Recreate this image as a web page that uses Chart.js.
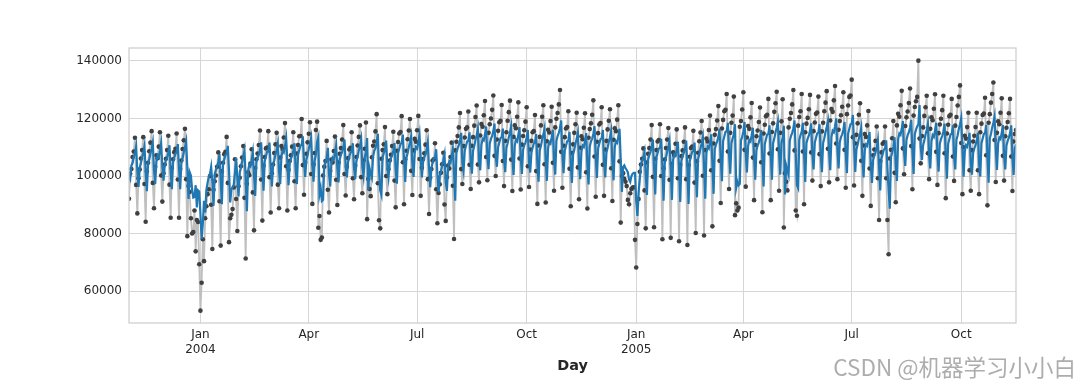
<!DOCTYPE html>
<html>
<head>
<meta charset="utf-8">
<script src="https://cdn.jsdelivr.net/npm/chart.js@4/dist/chart.umd.min.js"></script>
<style>
html,body{margin:0;padding:0;background:#fff;}
#wrap{position:relative;width:1082px;height:382px;overflow:hidden;}
#watermark{position:absolute;right:6px;top:351px;font-family:"Noto Sans CJK SC",sans-serif;font-size:22.5px;line-height:30px;color:#adadad;white-space:nowrap;}
</style>
</head>
<body>
<div id="wrap">
<canvas id="c" width="1082" height="382"></canvas>
<div id="watermark">CSDN @机器学习小小白</div>
</div>
<script>
// First day shown (Sunday 2003-11-02); one value per day after it.
const startDate = '2003-11-02';

// Observed daily vehicle counts (grey dotted line), one row per Mon..Sun week
const numVehicles = [
92100,
100800,102400,106600,108500,113300,96900,87000,
99200,102300,106100,109000,113500,97200,84100,
101600,104600,108600,111600,115600,97600,88800,
103200,107200,106200,110200,115200,100200,91100,
101000,104000,106000,109000,114000,97000,85500,
102800,105800,108300,109500,114800,98800,85500,
102400,105400,109400,112400,116400,98900,79100,
96500,94500,85300,80000,80500,88000,73800,
84700,84000,69300,53200,62900,78000,70400,
85300,89500,93700,95400,100000,90000,74600,
95200,98200,100200,103200,108200,91200,75800,
101600,104600,107600,108400,113600,97600,77000,
85300,86500,88500,96000,105800,92000,80900,
96400,99400,103400,106400,110400,92400,71300,
97300,101300,100300,104300,109300,94300,81100,
102800,105800,107800,110800,115800,98800,84500,
103600,106600,109600,109900,115600,99600,87300,
101000,104000,108000,111000,115000,97000,88800,
106400,110400,109400,113400,118400,103400,88000,
102200,105200,107200,110200,115200,98200,88800,
107800,110800,113800,113900,119800,103800,93500,
104700,107700,111700,114700,118700,100700,90300,
104000,108000,116000,118900,82000,86100,77800,
78600,100200,103200,105200,112200,95200,87300,
101700,105700,104700,108700,113700,98700,89900,
104700,107700,109700,112700,117700,100700,93200,
103200,106200,109200,109800,115200,99200,91900,
103600,106600,110600,113600,117600,99600,94000,
105500,109500,118600,85000,99000,95500,93000,
106500,110500,112000,115500,121500,97500,84600,
81800,106000,109000,111000,117000,100000,93700,
102400,105400,107400,110400,115400,98400,89100,
108800,111800,114800,115300,120800,104800,90200,
105800,108800,112800,115800,119800,101800,93400,
108900,112900,111900,115900,120900,105900,93100,
102900,105900,107900,110900,115900,98900,86800,
99400,102400,105400,105800,111400,95400,83600,
94100,97100,101100,104100,108100,90100,84400,
99600,103600,102600,106600,111600,96600,78100,
108900,111900,113900,116900,121900,102400,97200,
110400,113400,116400,116900,122400,103900,95500,
110500,113500,117500,120500,124500,104000,97800,
114100,118100,117100,121100,126100,106600,98500,
115000,118000,120000,123000,128000,107000,100000,
112700,115700,118700,119200,124700,105200,96500,
112200,115200,119200,122200,126200,105700,94800,
113600,117600,116600,120600,125600,106100,95300,
110900,113900,115900,118900,123900,103400,96200,
109200,112200,115200,115600,121200,101700,90300,
110600,113600,117600,120600,124600,104100,90800,
112100,116100,115100,119100,124100,104600,94900,
116900,119900,121900,124900,129900,108400,95900,
110500,113500,116500,117000,122500,102500,89500,
108000,111000,115000,118000,122000,103000,91900,
109800,113800,112800,116800,121800,101300,88700,
113300,116300,118300,121300,126300,106800,92800,
111900,114900,117900,118400,123900,103900,93100,
109200,112200,116200,119200,123200,102700,91300,
112600,116600,115600,119600,124600,105100,83800,
100000,101000,99000,98000,96500,91700,90200,
94000,95500,96000,96100,77800,68200,83300,
92000,101500,104000,106000,109600,95000,81800,
104700,107700,109700,112700,117700,99700,82200,
106000,109000,112000,112500,118000,100000,78000,
102700,105700,109700,112700,116700,98700,78500,
104200,108200,107200,111200,116200,99200,77300,
103900,106900,108900,111900,116900,98900,76000,
103700,106700,109700,110200,115700,97700,80200,
105100,108100,112100,115100,119100,100100,79300,
109000,113000,112000,116000,121000,102000,82500,
111300,114300,116300,119300,124300,105300,90600,
116500,119500,122500,123000,128500,108500,95500,
115000,118500,121000,127600,86400,90500,88000,
89000,117100,119100,123100,129100,109100,96300,
113400,117400,116400,120400,125400,106400,91600,
110800,113800,115800,118800,123800,104800,87400,
114800,117800,120800,121300,126800,107800,91600,
115300,118300,122300,125300,129300,109300,94900,
115000,119000,126700,82100,101000,98000,95000,
116900,119900,121900,124900,129900,108900,88000,
86200,117500,120500,122500,128500,108500,90200,
115200,118200,120200,123200,128200,108200,98400,
115600,118600,121600,122100,127600,107600,96500,
115500,118500,122500,125500,129500,109500,97800,
119300,123300,122300,126300,131300,111300,98900,
116100,119100,121100,124100,129100,109100,95900,
121500,124500,127500,128000,133500,113500,96700,
111300,114300,118300,121300,125300,105300,93100,
110600,114600,113600,117600,122600,102600,89600,
104200,107200,109200,112200,117200,99200,84700,
105200,108200,111200,111700,117200,99200,84700,
72800,106100,109100,113100,119100,101100,90900,
117600,121600,120600,124600,129600,109600,100600,
117400,120400,122400,125400,130400,110400,95400,
121000,124000,126000,127500,140100,113000,104400,
113900,116900,120900,123900,127900,107900,98900,
116400,120400,119400,123400,128400,108400,96900,
114900,117900,119900,122900,127900,107900,92300,
114800,117800,120800,121300,126800,106800,98300,
117500,120500,124500,127500,131500,111500,93700,
110000,114000,113000,117000,122000,102000,94900,
109000,112000,114000,117000,122000,102000,93700,
115200,118200,121200,121700,127200,107200,89800,
118500,121500,125500,128500,132500,112500,97900,
115000,119000,118000,122000,127000,107000,98400,
113800,116800,118800,121800,126800,106800,94800,
112000,114600,116000
];

// Lag-1 regression prediction (blue line), same days
const lagPrediction = [
100000,
99000,103600,104500,106700,107800,110300,101500,
96200,102800,104400,106500,108000,110400,101700,
94700,104100,105700,107800,109400,111600,101900,
97200,104900,107100,106500,108700,111400,103300,
98400,103700,105400,106400,108000,110700,101600,
95400,104700,106300,107700,108300,111100,102600,
95400,104500,106100,108200,109900,112000,102600,
92000,101300,100200,95300,92500,92700,96800,
89100,95000,94600,86700,78100,83300,91400,
87300,95300,97600,99800,100700,103200,97800,
89600,100600,102200,103300,104900,107600,98500,
90200,104100,105700,107300,107700,110500,101900,
90800,95300,96000,97000,101100,106300,98900,
92900,101300,102900,105000,106600,108800,99100,
87800,101800,103900,103400,105500,108200,100100,
93100,104700,106300,107400,109000,111700,102600,
94900,105100,106700,108400,108500,111600,103000,
96400,103700,105400,107500,109100,111300,101600,
97200,106600,108800,108200,110400,113100,105000,
96800,104400,106000,107100,108700,111400,102200,
97200,107400,109000,110600,110700,113800,105200,
99700,105700,107300,109500,111100,113200,103600,
98000,105400,107500,111800,113400,93500,95700,
91300,91700,103300,104900,106000,109800,100600,
96400,104100,106300,105700,107900,110600,102500,
97800,105700,107300,108400,110000,112700,103600,
99500,104900,106500,108100,108500,111400,102800,
98900,105100,106700,108900,110500,112700,103000,
100000,106200,108300,113200,95100,102700,100800,
99400,106700,108800,109600,111500,114700,101900,
94900,93400,106400,108000,109100,112300,103200,
99800,104500,106100,107200,108800,111500,102300,
97300,107900,109500,111100,111400,114400,105800,
97900,106300,107900,110100,111700,113800,104200,
99700,108000,110100,109600,111700,114400,106400,
99500,104800,106400,107400,109100,111700,102600,
96100,102900,104500,106100,106300,109300,100700,
94400,100000,101600,103800,105400,107500,97900,
94800,103000,105100,104600,106700,109400,101400,
91400,108000,109600,110700,112300,115000,104500,
101700,108800,110400,112000,112300,115200,105300,
100800,108800,110400,112600,114200,116400,105400,
102000,110800,112900,112400,114500,117200,106700,
102400,111300,112900,113900,115600,118200,107000,
103200,110000,111600,113200,113500,116500,106000,
101300,109800,111400,113500,115100,117300,106300,
100400,110500,112700,112100,114300,117000,106500,
100700,109100,110700,111700,113400,116000,105000,
101200,108100,109800,111400,111600,114600,104100,
98000,108900,110500,112700,114300,116400,105400,
98300,109700,111800,111300,113500,116100,105700,
100500,112300,113900,115000,116600,119300,107700,
101000,108800,110400,112100,112300,115300,104500,
97600,107500,109100,111300,112900,115000,104800,
98900,108500,110600,110100,112200,114900,103900,
97100,110300,112000,113000,114600,117300,106900,
99300,109600,111200,112800,113100,116000,105300,
99500,108100,109800,111900,113500,115700,104600,
98500,110000,112100,111600,113700,116400,105900,
94500,103200,103700,102700,102100,101300,98700,
97900,100000,100800,101100,101100,91300,86100,
94200,98900,104000,105400,106400,108400,100500,
93400,105700,107300,108400,110000,112700,103000,
93600,106400,108000,109600,109900,112900,103200,
91400,104600,106300,108400,110000,112200,102500,
91700,105500,107600,107100,109200,111900,102800,
91000,105300,106900,108000,109600,112300,102600,
90300,105200,106800,108400,108700,111600,102000,
92600,105900,107500,109700,111300,113500,103300,
92100,108000,110200,109600,111800,114500,104300,
93800,109300,110900,112000,113600,116300,106000,
98200,112100,113700,115300,115600,118500,107800,
100800,111300,113100,114500,118000,95900,98100,
96800,97300,112400,113500,115600,118800,108100,
101200,110400,112500,112000,114200,116800,106600,
98700,109000,110600,111700,113300,116000,105800,
96400,111100,112800,114400,114600,117600,107400,
98700,111400,113000,115200,116800,118900,108200,
100500,111300,113400,117500,93600,103700,102100,
100500,112300,113900,115000,116600,119300,108000,
96800,95800,112600,114200,115300,118500,107800,
97900,111400,113000,114000,115700,118300,107600,
102300,111600,113200,114800,115100,118000,107300,
101300,111500,113100,115300,116900,119000,108300,
102000,113600,115700,115200,117300,120000,109300,
102600,111800,113500,114500,116100,118800,108100,
101000,114700,116400,118000,118200,121200,110400,
101400,109300,110900,113000,114600,116800,106000,
99500,108900,111000,110500,112700,115300,104600,
97600,105500,107100,108100,109800,112400,102800,
95000,106000,107600,109200,109500,112400,102800,
95000,88600,106500,108100,110200,113500,103800,
98300,112700,114800,114300,116400,119100,108400,
103500,112500,114200,115200,116800,119500,108800,
100700,114500,116100,117200,118000,124700,110200,
105600,110700,112300,114400,116000,118200,107400,
102600,112000,114200,113600,115800,118500,107700,
101500,111200,112800,113900,115500,118200,107400,
99100,111100,112800,114400,114600,117600,106900,
102300,112600,114200,116400,118000,120100,109400,
99800,108600,110700,110200,112300,115000,104300,
100500,108000,109600,110700,112300,115000,104300,
99800,111400,113000,114600,114900,117800,107100,
97700,113100,114700,116900,118500,120700,109900,
102100,111300,113400,112900,115000,117700,107000,
102300,110600,112200,113300,114900,117600,106900,
100400,109600,111000
];

// Axis ticks
const xTickDates = ['2004-01-01','2004-04-01','2004-07-01','2004-10-01','2005-01-01','2005-04-01','2005-07-01','2005-10-01'];
const xTickLabels = [['Jan','2004'],'Apr','Jul','Oct',['Jan','2005'],'Apr','Jul','Oct'];
const yTicks = [60000, 80000, 100000, 120000, 140000];
const yRange = [48900, 144500];

const dayMs = 86400000;
const t0 = Date.parse(startDate + 'T00:00:00Z');
const dayIndex = d => Math.round((Date.parse(d + 'T00:00:00Z') - t0) / dayMs);
const xTickIdx = xTickDates.map(dayIndex);
const lastIdx = numVehicles.length - 1;

const grayPts = numVehicles.map((v, i) => ({x: i, y: v}));
const bluePts = lagPrediction.map((v, i) => ({x: i, y: v}));

const framePlugin = {
  id: 'frame',
  afterDraw(chart) {
    const {ctx, chartArea: a} = chart;
    ctx.save();
    ctx.strokeStyle = '#cccccc';
    ctx.lineWidth = 1.2;
    ctx.strokeRect(a.left, a.top, a.right - a.left, a.bottom - a.top);
    ctx.restore();
  }
};

const tickFont = {family: 'DejaVu Sans', size: 12};
const gridOpts = {color: '#d6d6d6', lineWidth: 1, drawTicks: false};

new Chart(document.getElementById('c'), {
  type: 'line',
  data: {
    datasets: [
      {
        label: 'NumVehicles',
        data: grayPts,
        borderColor: '#bfbfbf',
        borderWidth: 1.8,
        pointRadius: 2.3,
        pointBackgroundColor: '#404040',
        pointBorderColor: '#404040',
        pointBorderWidth: 0,
        tension: 0,
        order: 2
      },
      {
        label: 'Prediction',
        data: bluePts,
        borderColor: '#1f77b4',
        borderWidth: 2.2,
        pointRadius: 0,
        tension: 0,
        order: 1
      }
    ]
  },
  options: {
    responsive: false,
    animation: false,
    devicePixelRatio: 1,
    parsing: true,
    layout: {padding: {left: 0, right: 66, top: 48, bottom: 0}},
    plugins: {legend: {display: false}, tooltip: {enabled: false}},
    events: [],
    scales: {
      x: {
        type: 'linear',
        min: 0,
        max: lastIdx,
        afterBuildTicks: s => { s.ticks = xTickIdx.map(v => ({value: v})); },
        afterFit: s => { s.height = 59; },
        grid: gridOpts,
        border: {display: false},
        ticks: {
          autoSkip: false, maxRotation: 0, minRotation: 0, padding: 5,
          color: '#262626', font: tickFont,
          callback: v => { const k = xTickIdx.indexOf(v); return k >= 0 ? xTickLabels[k] : ''; }
        },
        title: {
          display: true, text: 'Day', color: '#262626',
          font: {family: 'DejaVu Sans', size: 14.4, weight: 'bold'},
          padding: {top: 0, bottom: 7}
        }
      },
      y: {
        type: 'linear',
        min: yRange[0],
        max: yRange[1],
        afterBuildTicks: s => { s.ticks = yTicks.map(v => ({value: v})); },
        afterFit: s => { s.width = 129; },
        grid: gridOpts,
        border: {display: false},
        ticks: {padding: 7, color: '#262626', font: tickFont, callback: v => String(v)}
      }
    }
  },
  plugins: [framePlugin]
});
</script>
</body>
</html>
